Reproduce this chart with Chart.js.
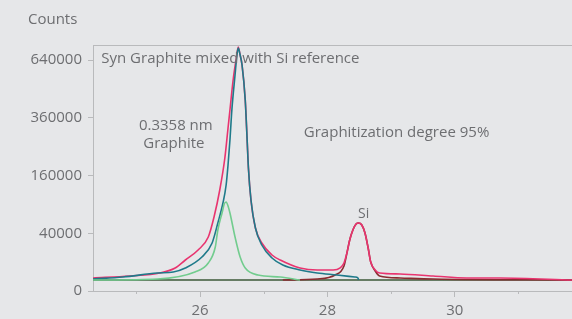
<!DOCTYPE html>
<html>
<head>
<meta charset="utf-8">
<script src="https://cdn.jsdelivr.net/npm/chart.js@4.4.1/dist/chart.umd.min.js"></script>
<style>
  html, body { margin: 0; padding: 0; background: #e6e7e9; }
  #wrap { width: 572px; height: 319px; position: relative; }
</style>
</head>
<body>
<div id="wrap"><canvas id="xrd"></canvas></div>
<script>
// 2-theta (deg) and counts
const measuredTheta = [24.32, 24.90, 25.37, 25.61, 25.77, 25.97, 26.13, 26.22, 26.31, 26.39, 26.44, 26.47, 26.52, 26.57, 26.60, 26.63, 26.66, 26.71, 26.74, 26.76, 26.80, 26.87, 26.97, 27.13, 27.26, 27.57, 27.84, 28.09, 28.20, 28.26, 28.31, 28.35, 28.40, 28.45, 28.49, 28.54, 28.59, 28.64, 28.68, 28.75, 28.82, 29.14, 29.66, 30.19, 30.71, 31.84];
const measuredCounts = [2030, 2700, 3890, 6350, 11530, 20160, 34970, 65680, 122350, 212160, 318700, 393000, 534000, 651100, 714100, 668000, 612600, 437500, 273500, 181500, 99300, 47600, 27630, 15540, 11530, 6350, 5290, 5290, 6350, 9400, 18240, 31200, 44630, 53840, 55460, 52250, 40350, 22180, 10090, 5290, 3890, 3470, 2700, 2030, 2030, 1450];

const graphiteFitTheta = [24.32, 24.79, 25.33, 25.58, 25.77, 26.03, 26.19, 26.28, 26.36, 26.41, 26.44, 26.47, 26.50, 26.55, 26.58, 26.60, 26.63, 26.66, 26.71, 26.74, 26.76, 26.80, 26.87, 26.97, 27.13, 27.30, 27.57, 27.84, 28.15, 28.43, 28.48, 28.49];
const graphiteFitCounts = [1730, 2350, 3890, 4330, 6350, 13870, 27630, 55460, 92880, 134760, 190400, 273500, 393000, 559600, 668000, 708300, 668000, 612600, 437500, 273500, 181500, 99300, 47600, 25380, 13060, 8110, 5290, 3890, 3070, 2350, 2030, 1450];

const graphitePeakTheta = [24.32, 25.33, 25.92, 26.13, 26.24, 26.28, 26.35, 26.38, 26.41, 26.44, 26.47, 26.55, 26.63, 26.71, 26.91, 27.26, 27.57];
const graphitePeakCounts = [1450, 1730, 4330, 9400, 23220, 44630, 74850, 90780, 95000, 86650, 72960, 34970, 13870, 6350, 3070, 2350, 1450];

const siFitTheta = [27.30, 27.84, 28.12, 28.26, 28.31, 28.35, 28.40, 28.45, 28.49, 28.54, 28.59, 28.64, 28.68, 28.75, 28.82, 29.14, 29.66, 31.84];
const siFitCounts = [1450, 1730, 3070, 7500, 18240, 31200, 44630, 53840, 55460, 52250, 40350, 22180, 10090, 4800, 2700, 2030, 1730, 1450];

const backgroundTheta = [24.32, 31.84];
const backgroundCounts = [1450, 1450];

const xTicks = [25, 26, 27, 28, 29, 30, 31];
const xLabelled = [26, 28, 30];
const yTicks = [0, 40000, 160000, 360000, 640000];

const notes = [
  { text: 'Syn Graphite mixed with Si reference', x: 24.45, y: 645000, align: 'left' },
  { text: '0.3358 nm', x: 25.62, y: 326500, align: 'center' },
  { text: 'Graphite', x: 25.59, y: 259200, align: 'center' },
  { text: 'Graphitization degree 95%', x: 27.63, y: 299400, align: 'left' },
  { text: 'Si', x: 28.57, y: 71100, align: 'center', size: 14 }
];

const inkColor = '#6d6e71';
const axisColor = '#b9babc';

// y axis is square-root scaled: plot sqrt(counts)
function toPoints(theta, counts) {
  return theta.map((t, i) => ({ x: t, y: Math.sqrt(counts[i]) }));
}

function line(label, theta, counts, color) {
  return {
    label: label,
    data: toPoints(theta, counts),
    borderColor: color,
    borderWidth: 1.6,
    pointRadius: 0,
    fill: false,
    cubicInterpolationMode: 'monotone'
  };
}

const extras = {
  id: 'extras',
  afterDraw(chart) {
    const ctx = chart.ctx;
    const a = chart.chartArea;
    const xs = chart.scales.x, ys = chart.scales.y;
    ctx.save();
    // top frame line
    ctx.strokeStyle = axisColor;
    ctx.lineWidth = 1;
    ctx.beginPath();
    ctx.moveTo(a.left, a.top + 0.5);
    ctx.lineTo(a.right, a.top + 0.5);
    ctx.stroke();
    // short minor ticks
    xTicks.forEach(v => {
      if (xLabelled.includes(v)) return;
      const px = Math.round(xs.getPixelForValue(v)) + 0.5;
      ctx.beginPath();
      ctx.moveTo(px, a.bottom);
      ctx.lineTo(px, a.bottom + 3);
      ctx.stroke();
    });
    ctx.fillStyle = inkColor;
    ctx.textBaseline = 'middle';
    notes.forEach(n => {
      ctx.font = (n.size || 15) + 'px "Open Sans"';
      ctx.textAlign = n.align;
      ctx.fillText(n.text, xs.getPixelForValue(n.x), ys.getPixelForValue(Math.sqrt(n.y)));
    });
    ctx.font = '15px "Open Sans"';
    ctx.textAlign = 'left';
    ctx.fillText('Counts', 28, 20);
    ctx.restore();
  }
};

new Chart(document.getElementById('xrd'), {
  type: 'line',
  data: {
    datasets: [
      line('Graphite peak', graphitePeakTheta, graphitePeakCounts, '#72cc8e'),
      line('Graphite fit', graphiteFitTheta, graphiteFitCounts, '#1f7a8a'),
      line('Measured', measuredTheta, measuredCounts, '#e8346f'),
      line('Si fit', siFitTheta, siFitCounts, '#8a2b30'),
      line('Background', backgroundTheta, backgroundCounts, '#3b5937')
    ]
  },
  options: {
    responsive: true,
    maintainAspectRatio: false,
    animation: false,
    layout: { padding: { top: 45, right: 0, left: 0, bottom: 0 } },
    plugins: { legend: { display: false }, tooltip: { enabled: false } },
    scales: {
      x: {
        type: 'linear',
        min: 24.32,
        max: 31.84,
        afterBuildTicks: s => { s.ticks = xTicks.map(v => ({ value: v })); },
        afterFit: s => { s.height = 28; },
        ticks: {
          color: inkColor,
          font: { family: 'Open Sans', size: 15 },
          padding: 5,
          maxRotation: 0,
          callback: v => xLabelled.includes(v) ? String(v) : ''
        },
        grid: {
          drawOnChartArea: false,
          tickLength: 6,
          color: axisColor,
          tickColor: c => xLabelled.includes(c.tick && c.tick.value) ? axisColor : 'rgba(0,0,0,0)'
        },
        border: { color: axisColor }
      },
      y: {
        type: 'linear',
        min: 0,
        max: 852,
        afterBuildTicks: s => { s.ticks = yTicks.map(v => ({ value: Math.sqrt(v) })); },
        afterFit: s => { s.width = 93; },
        ticks: {
          color: inkColor,
          font: { family: 'Open Sans', size: 15 },
          padding: 6,
          callback: v => String(Math.round(v * v))
        },
        grid: { drawOnChartArea: false, tickLength: 5, color: axisColor },
        border: { color: axisColor }
      }
    }
  },
  plugins: [extras]
});
</script>
</body>
</html>
